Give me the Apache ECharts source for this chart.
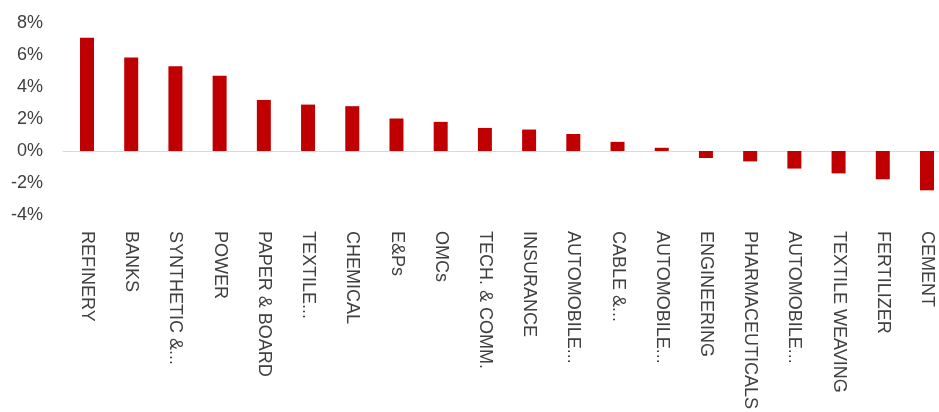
<!DOCTYPE html>
<html>
<head>
<meta charset="utf-8">
<script src="https://cdn.jsdelivr.net/npm/echarts@6/dist/echarts.min.js"></script>
<style>
html,body{margin:0;padding:0;background:#fff;}
#chart{width:939px;height:412px;}
</style>
</head>
<body>
<div id="chart"></div>
<script>
const categories = ["REFINERY","BANKS","SYNTHETIC &...","POWER","PAPER & BOARD","TEXTILE...","CHEMICAL","E&Ps","OMCs","TECH. & COMM.","INSURANCE","AUTOMOBILE...","CABLE &...","AUTOMOBILE...","ENGINEERING","PHARMACEUTICALS","AUTOMOBILE...","TEXTILE WEAVING","FERTILIZER","CEMENT"];
const values = [7.08,5.85,5.3,4.7,3.19,2.9,2.8,2.03,1.82,1.44,1.34,1.06,0.57,0.2,-0.44,-0.65,-1.1,-1.4,-1.77,-2.46];
const yTicks = {min:-4,max:8,interval:2};

const font = 'Liberation Sans, Arial, sans-serif';
const chart = echarts.init(document.getElementById('chart'));
chart.setOption({
  animation:false,
  grid:[
    {left:87,top:23,right:12,height:192,containLabel:false},
    {left:63,top:23,right:0,height:192,containLabel:false}
  ],
  xAxis:[{
    type:'category',
    gridIndex:0,
    data:categories,
    boundaryGap:false,
    axisLine:{show:false,onZero:false},
    axisTick:{show:false},
    axisLabel:{rotate:-90,margin:16,interval:0,fontSize:18,color:'#404040',fontFamily:font}
  },{
    type:'value',
    gridIndex:1,
    min:0,max:1,
    axisLine:{show:true,onZero:true,lineStyle:{color:'#d9d9d9',width:1}},
    axisTick:{show:false},
    axisLabel:{show:false},
    splitLine:{show:false}
  }],
  yAxis:[{
    type:'value',
    gridIndex:0,
    min:yTicks.min,max:yTicks.max,interval:yTicks.interval,
    splitLine:{show:false},
    axisLine:{show:false},
    axisTick:{show:false},
    axisLabel:{margin:44,fontSize:18,color:'#404040',fontFamily:font,formatter:v=>v+'%'}
  },{
    type:'value',
    gridIndex:1,
    min:yTicks.min,max:yTicks.max,interval:yTicks.interval,
    show:false
  }],
  series:[{
    type:'bar',
    xAxisIndex:0,yAxisIndex:0,
    data:values,
    barWidth:14,
    z:3,
    itemStyle:{color:'#C00000'}
  }]
});
</script>
</body>
</html>
